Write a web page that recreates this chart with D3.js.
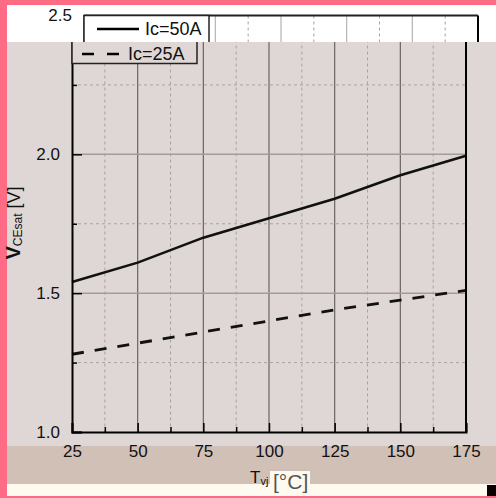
<!DOCTYPE html>
<html><head><meta charset="utf-8">
<script src="https://cdn.jsdelivr.net/npm/d3@7"></script>
<style>body{margin:0;background:#fff;overflow:hidden}svg{display:block}text{font-family:"Liberation Sans",Arial,sans-serif}</style>
</head><body><script>
const temps=[25,50,75,100,125,150,175];
const vce50=[1.54,1.61,1.70,1.77,1.84,1.925,1.995];
const vce25=[1.28,1.32,1.36,1.40,1.44,1.475,1.51];
const xTicks=[25,50,75,100,125,150,175];
const xMinor=[37.5,62.5,87.5,112.5,137.5,162.5];
const yTicks=[1.0,1.5,2.0,2.5];
const yMinor=[1.25,1.75,2.25];
const seriesNames=["Ic=50A","Ic=25A"];

const W=496,H=498,STRIP=42;
const svg=d3.select("body").append("svg").attr("width",W).attr("height",H);
const x=d3.scaleLinear().domain([25,175]).range([72,466]);
const y=d3.scaleLinear().domain([1,2.5]).range([432,15.5]);

// backgrounds
svg.append("rect").attr("x",0).attr("y",0).attr("width",W).attr("height",H).attr("fill","#fe6b85");
svg.append("rect").attr("x",7).attr("y",5).attr("width",W-7).attr("height",37).attr("fill","#ffffff");
svg.append("rect").attr("x",7).attr("y",42).attr("width",W-7).attr("height",404).attr("fill","#dfd7d5");
svg.append("rect").attr("x",7).attr("y",446).attr("width",W-7).attr("height",38).attr("fill","#d1c0b6");
svg.append("rect").attr("x",7).attr("y",484).attr("width",W-7).attr("height",12).attr("fill","#fffaf0");

const defs=svg.append("defs");
defs.append("clipPath").attr("id","cMain").append("rect").attr("x",7).attr("y",STRIP).attr("width",W-7).attr("height",H-STRIP);
defs.append("clipPath").attr("id","cStrip").append("rect").attr("x",7).attr("y",5).attr("width",W-7).attr("height",STRIP-5);

function drawChart(g,bg,gridMajorCol,keepText){
  g.selectAll(".vmin").data(xMinor).enter().append("line")
    .attr("x1",d=>x(d)).attr("x2",d=>x(d)).attr("y1",y(2.5)).attr("y2",y(1))
    .attr("stroke","#a9a2a2").attr("stroke-width",1).attr("stroke-dasharray","3,3");
  g.selectAll(".vmaj").data(xTicks.slice(1,-1)).enter().append("line")
    .attr("x1",d=>x(d)).attr("x2",d=>x(d)).attr("y1",y(2.5)).attr("y2",y(1))
    .attr("stroke",gridMajorCol).attr("stroke-width",1.2);
  g.selectAll(".hmin").data(yMinor).enter().append("line")
    .attr("x1",x(25)).attr("x2",x(175)).attr("y1",d=>y(d)).attr("y2",d=>y(d))
    .attr("stroke","#aaa3a3").attr("stroke-width",1).attr("stroke-dasharray","3,3");
  g.selectAll(".hmaj").data(yTicks.slice(1,-1)).enter().append("line")
    .attr("x1",x(25)).attr("x2",x(175)).attr("y1",d=>y(d)).attr("y2",d=>y(d))
    .attr("stroke","#a39c9c").attr("stroke-width",1.5);
  const line=d3.line().x(d=>x(d[0])).y(d=>y(d[1]));
  g.append("path").datum(temps.map((t,i)=>[t,vce50[i]])).attr("d",line)
    .attr("fill","none").attr("stroke","#111").attr("stroke-width",2.6);
  g.append("path").datum(temps.map((t,i)=>[t,vce25[i]])).attr("d",line)
    .attr("fill","none").attr("stroke","#111").attr("stroke-width",2.8).attr("stroke-dasharray","12,11");

  const xa=d3.axisBottom(x).tickValues(xTicks).tickSize(-9).tickFormat(d3.format("d"));
  const gx=g.append("g").attr("transform",`translate(0,${y(1)})`).call(xa);
  gx.attr("font-family",null).attr("font-size",null);
  gx.select(".domain").attr("stroke","#000").attr("stroke-width",2);
  gx.selectAll(".tick line").attr("stroke","#000").attr("stroke-width",1.5);
  gx.selectAll("text").attr("font-size",17).attr("fill","#111").attr("y",25).attr("dy",null);
  if(!keepText(457)) gx.selectAll("text").remove();
  const xm=d3.axisBottom(x).tickValues(xMinor).tickSize(-5).tickFormat("");
  const gxm=g.append("g").attr("transform",`translate(0,${y(1)})`).call(xm);
  gxm.select(".domain").remove();
  gxm.selectAll("text").remove();
  gxm.selectAll(".tick line").attr("stroke","#000").attr("stroke-width",1.5);

  const ya=d3.axisLeft(y).tickValues(yTicks).tickSize(-10).tickFormat(d3.format(".1f")).tickPadding(12);
  const gy=g.append("g").attr("transform",`translate(${x(25)},0)`).call(ya);
  gy.attr("font-family",null).attr("font-size",null);
  gy.select(".domain").attr("stroke","#000").attr("stroke-width",2);
  gy.selectAll(".tick line").attr("stroke","#000").attr("stroke-width",1.5);
  gy.selectAll("text").attr("font-size",17).attr("fill","#111");
  gy.selectAll(".tick").filter(d=>!keepText(y(d))).select("text").remove();
  const ym=d3.axisLeft(y).tickValues(yMinor).tickSize(-5).tickFormat("");
  const gym=g.append("g").attr("transform",`translate(${x(25)},0)`).call(ym);
  gym.select(".domain").remove();
  gym.selectAll("text").remove();
  gym.selectAll(".tick line").attr("stroke","#000").attr("stroke-width",1.5);
  g.append("line").attr("x1",x(175)).attr("x2",x(175)).attr("y1",y(2.5)).attr("y2",y(1)).attr("stroke","#000").attr("stroke-width",2);
  g.append("line").attr("x1",x(25)).attr("x2",x(175)).attr("y1",y(2.5)).attr("y2",y(2.5)).attr("stroke","#222").attr("stroke-width",2);

  const lg=g.append("g");
  lg.append("rect").attr("x",72).attr("y",15.5).attr("width",125).attr("height",48)
    .attr("fill",bg).attr("stroke","#222").attr("stroke-width",1.5);
  const ent=[{x1:85,x2:127,tx:133,ty:29,dash:null},{x1:82,x2:119,tx:128,ty:54,dash:"12,13"}];
  seriesNames.forEach((n,i)=>{
    const e=ent[i];
    lg.append("line").attr("x1",e.x1).attr("x2",e.x2).attr("y1",e.ty).attr("y2",e.ty)
      .attr("stroke","#000").attr("stroke-width",2.6).attr("stroke-dasharray",e.dash);
    if(keepText(e.ty))
      lg.append("text").attr("x",e.tx).attr("y",e.ty).attr("dy","0.35em").attr("font-size",18).attr("fill","#111").text(n);
  });
}

const main=svg.append("g").attr("clip-path","url(#cMain)");
drawChart(main,"#dfd7d5","#6b6464",v=>v>=STRIP);
const strip=svg.append("g").attr("clip-path","url(#cStrip)").append("g").attr("transform","translate(12,0)");
drawChart(strip,"#ffffff","#b9b3b3",v=>v<STRIP);

// y title
const yt=svg.append("text").attr("transform","translate(20,223) rotate(-90)").attr("text-anchor","middle").attr("fill","#111");
yt.append("tspan").attr("font-size",20).attr("font-weight","bold").text("V");
yt.append("tspan").attr("font-size",12).attr("dy",2).text("CEsat");
yt.append("tspan").attr("font-size",18).attr("dy",-2).text(" [V]");

// x title
svg.append("rect").attr("x",270).attr("y",471).attr("width",40).attr("height",14).attr("fill","#fffaf0");
const xt=svg.append("text").attr("x",250).attr("y",483).attr("fill","#111");
xt.append("tspan").attr("font-size",17).text("T");
xt.append("tspan").attr("font-size",11).attr("dy",2).text("vj");
svg.append("text").attr("x",273).attr("y",489).attr("font-size",21).attr("fill","#555")
  .attr("font-family","'Liberation Serif',serif").text("[°C]");

svg.append("rect").attr("x",487).attr("y",485).attr("width",9).attr("height",11).attr("fill","#0a0000");
</script></body></html>
